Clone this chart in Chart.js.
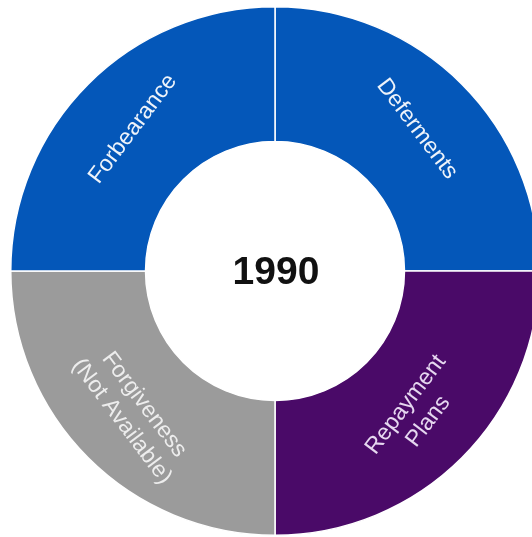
<!DOCTYPE html>
<html>
<head>
<meta charset="utf-8">
<script src="https://cdn.jsdelivr.net/npm/chart.js@4/dist/chart.umd.min.js"></script>
<style>
  html, body { margin: 0; padding: 0; background: #ffffff; overflow: hidden; width: 532px; height: 537px; }
  #wrap { position: absolute; left: 10px; top: 6px; width: 530px; height: 530px; }
</style>
</head>
<body>
<div id="wrap"><canvas id="c" width="530" height="530"></canvas></div>
<script>
const categories = [["Deferments"], ["Repayment", "Plans"], ["Forgiveness", "(Not Available)"], ["Forbearance"]];
const shares = [1, 1, 1, 1];
const sliceColors = ["#0457B9", "#4A0A68", "#9B9B9B", "#0457B9"];
const labelColors = ["#EEF3FA", "#E6D8F0", "#EDEDED", "#EEF3FA"];
const centerTitle = "1990";

const sliceLabels = {
  id: "sliceLabels",
  afterDatasetsDraw(chart) {
    const ctx = chart.ctx;
    const meta = chart.getDatasetMeta(0);
    meta.data.forEach((arc, i) => {
      const p = arc.getProps(["x", "y", "startAngle", "endAngle", "innerRadius", "outerRadius"], true);
      const mid = (p.startAngle + p.endAngle) / 2;
      const r = (p.innerRadius + p.outerRadius) / 2 + 4;
      const cx = p.x + Math.cos(mid) * r;
      const cy = p.y + Math.sin(mid) * r;
      let rot = mid + Math.PI / 2;
      while (rot > Math.PI / 2) rot -= Math.PI;
      while (rot < -Math.PI / 2) rot += Math.PI;
      rot += Math.sign(rot) * (8 * Math.PI / 180);
      const lines = categories[i];
      const lh = 28;
      ctx.save();
      ctx.translate(cx, cy);
      ctx.rotate(rot);
      ctx.fillStyle = labelColors[i];
      ctx.font = "23px 'Liberation Sans', Arial, sans-serif";
      ctx.textAlign = "center";
      ctx.textBaseline = "middle";
      lines.forEach((t, k) => {
        ctx.fillText(t, 0, (k - (lines.length - 1) / 2) * lh);
      });
      ctx.restore();
    });
    const a = meta.data[0];
    ctx.save();
    ctx.fillStyle = "#111111";
    ctx.font = "bold 39px 'Liberation Sans', Arial, sans-serif";
    ctx.textAlign = "center";
    ctx.textBaseline = "middle";
    ctx.fillText(centerTitle, a.x + 1, a.y + 2);
    ctx.restore();
  }
};

new Chart(document.getElementById("c"), {
  type: "doughnut",
  data: {
    labels: categories.map(l => l.join(" ")),
    datasets: [{
      data: shares,
      backgroundColor: sliceColors,
      borderColor: "#FFFFFF",
      borderWidth: 1.5
    }]
  },
  options: {
    responsive: false,
    animation: false,
    cutout: "49%",
    layout: { padding: 0 },
    plugins: {
      legend: { display: false },
      tooltip: { enabled: false }
    }
  },
  plugins: [sliceLabels]
});
</script>
</body>
</html>
